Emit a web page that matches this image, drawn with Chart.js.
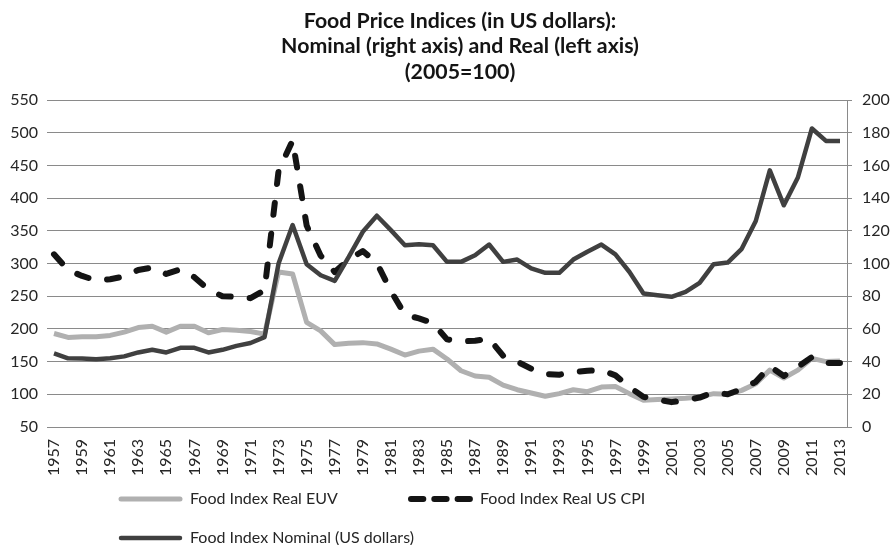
<!DOCTYPE html>
<html>
<head>
<meta charset="utf-8">
<title>Food Price Indices</title>
<script src="https://cdn.jsdelivr.net/npm/chart.js@4.4.1/dist/chart.umd.min.js"></script>
<style>
  html, body { margin: 0; padding: 0; background: #fff; }
  canvas { display: block; }
</style>
</head>
<body>
<canvas id="foodChart" width="892" height="545"></canvas>
<script>
// ── Data ────────────────────────────────────────────────────────────────────
const years = [
    '1957','1958','1959','1960','1961','1962','1963','1964','1965','1966',
    '1967','1968','1969','1970','1971','1972','1973','1974','1975','1976',
    '1977','1978','1979','1980','1981','1982','1983','1984','1985','1986',
    '1987','1988','1989','1990','1991','1992','1993','1994','1995','1996',
    '1997','1998','1999','2000','2001','2002','2003','2004','2005','2006',
    '2007','2008','2009','2010','2011','2012','2013'
];

// left axis
const realEUV = [
    193, 187, 188, 188, 190, 195, 202, 204, 195, 204,
    204, 194, 199, 198, 196, 192, 287, 284, 210, 197,
    176, 178, 179, 177, 169, 160, 166, 169, 154, 136,
    128, 126, 114, 107, 102,  97, 101, 107, 104, 111,
    112, 101,  91,  92,  93,  94,  96, 101, 100, 106,
    116, 137, 125, 137, 155, 150, 151
];

// left axis
const realUSCPI = [
    314, 290, 281, 274, 276, 280, 290, 294, 284, 291,
    279, 260, 250, 249, 247, 259, 442, 488, 358, 312,
    287, 306, 319, 301, 258, 222, 216, 209, 184, 181,
    182, 185, 159, 150, 139, 131, 130, 134, 136, 137,
    129, 111,  96,  92,  88,  91,  95, 103, 100, 108,
    119, 143, 128, 142, 157, 148, 148
];

// right axis
const nominalUSD = [
    45.0, 42.0, 41.9, 41.5, 42.0, 43.2, 45.6, 47.2, 45.6, 48.4,
    48.4, 45.6, 47.2, 49.6, 51.4, 55.0, 100.0, 123.5, 99.6, 92.8,
    89.4, 104.0, 119.4, 129.2, 120.4, 111.2, 111.8, 111.2, 101.0, 101.0,
    105.0, 111.6, 101.0, 102.4, 97.0, 94.3, 94.3, 102.4, 107.2, 111.6,
    105.6, 94.8, 81.6, 80.6, 79.6, 82.6, 88.2, 99.6, 100.6, 109.0,
    126.0, 157.0, 135.6, 152.6, 182.6, 175.0, 175.0
];

const titleLines = [
    'Food Price Indices (in US dollars):',
    'Nominal (right axis) and Real (left axis)',
    '(2005=100)'
];

// ── Shared styles ───────────────────────────────────────────────────────────
const GRID = '#8a8a8a';
const TEXT = '#262626';
const FONT = 'Lato, "Open Sans", sans-serif';

Chart.defaults.font.family = FONT;
Chart.defaults.font.size   = 16;
Chart.defaults.color       = TEXT;

// ── Title: the original is centred a little right of the canvas middle ──────
const offsetTitle = {
    id: 'offsetTitle',
    afterDraw(chart) {
        const ctx = chart.ctx;
        ctx.save();
        ctx.fillStyle    = '#141414';
        ctx.font         = 'bold 21.3px ' + FONT;
        ctx.textAlign    = 'center';
        ctx.textBaseline = 'middle';
        titleLines.forEach((t, i) => ctx.fillText(t, 460, 21 + i * 25.5));
        ctx.restore();
    }
};

// ── Legend laid out in two columns, like the original ───────────────────────
const columnLegend = {
    id: 'columnLegend',
    afterDraw(chart) {
        const ctx = chart.ctx;
        const ds  = chart.data.datasets;
        const slots = [
            { x: 118, y: 499 },
            { x: 408, y: 499 },
            { x: 118, y: 538 },
        ];
        ctx.save();
        ds.forEach((d, i) => {
            const s = slots[i];
            ctx.beginPath();
            ctx.strokeStyle = d.borderColor;
            ctx.lineWidth   = d.borderWidth;
            ctx.lineCap     = 'round';
            ctx.setLineDash(d.borderDash && d.borderDash.length ? [12.3, 11] : []);
            ctx.moveTo(s.x + 3, s.y);
            ctx.lineTo(s.x + 62, s.y);
            ctx.stroke();
            ctx.setLineDash([]);
            ctx.fillStyle    = TEXT;
            ctx.font         = '16px ' + FONT;
            ctx.textBaseline = 'middle';
            ctx.textAlign    = 'left';
            ctx.fillText(d.label, s.x + 72, s.y);
        });
        ctx.restore();
    }
};

new Chart(document.getElementById('foodChart'), {
    type: 'line',
    data: {
        labels: years,
        datasets: [
            {
                label:          'Food Index Real EUV',
                data:           realEUV,
                yAxisID:        'yLeft',
                borderColor:    '#b0b0b0',
                borderWidth:    5,
                borderJoinStyle:'round',
                pointRadius:    0,
                tension:        0,
                order:          3,
            },
            {
                label:          'Food Index Real US CPI',
                data:           realUSCPI,
                yAxisID:        'yLeft',
                borderColor:    '#141414',
                borderWidth:    6,
                borderDash:     [12, 19],
                borderCapStyle: 'round',
                borderJoinStyle:'round',
                pointRadius:    0,
                tension:        0,
                order:          2,
            },
            {
                label:          'Food Index Nominal (US dollars)',
                data:           nominalUSD,
                yAxisID:        'yRight',
                borderColor:    '#404040',
                borderWidth:    4.5,
                borderJoinStyle:'round',
                pointRadius:    0,
                tension:        0,
                order:          1,
            },
        ]
    },
    options: {
        responsive: false,
        animation:  false,
        layout: { padding: { left: 0, right: 0, top: 100, bottom: 60 } },
        plugins: {
            legend:  { display: false },
            tooltip: { enabled: false },
            title:   { display: false },
        },
        scales: {
            x: {
                offset: true,
                grid:   { display: false },
                border: { display: false },
                ticks: {
                    autoSkip:    false,
                    maxRotation: 90,
                    minRotation: 90,
                    padding:     4,
                    color:       TEXT,
                    callback: (v, i) => (i % 2 === 0 ? years[i] : ''),
                },
                afterFit: s => { s.height = 58; },
            },
            yLeft: {
                position: 'left',
                min: 50,
                max: 550,
                grid:   { color: GRID, lineWidth: 1, drawTicks: false },
                border: { display: false },
                ticks:  { stepSize: 50, padding: 9, color: TEXT },
                afterFit: s => { s.width = 47; },
            },
            yRight: {
                position: 'right',
                min: 0,
                max: 200,
                grid:   { drawOnChartArea: false, drawTicks: true, tickLength: 5, color: GRID },
                border: { display: true, color: GRID, width: 1 },
                ticks:  { stepSize: 20, padding: 10, color: TEXT },
                afterFit: s => { s.width = 45; },
            },
        }
    },
    plugins: [offsetTitle, columnLegend]
});
</script>
</body>
</html>
